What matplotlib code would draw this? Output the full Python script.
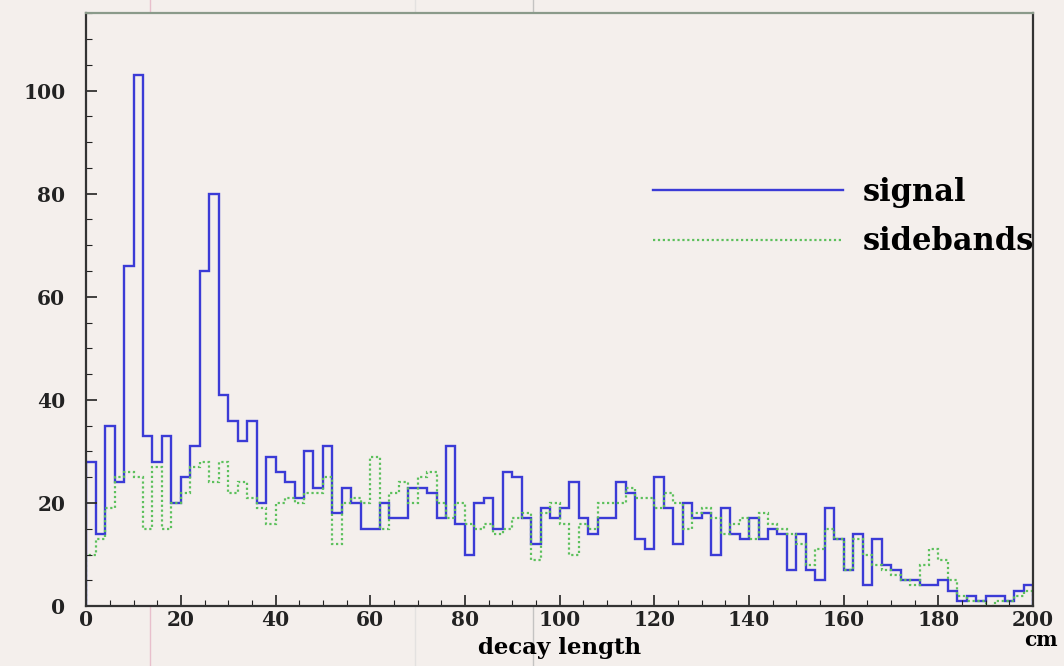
import numpy as np
import matplotlib
matplotlib.use("Agg")
import matplotlib.pyplot as plt
from matplotlib.lines import Line2D
from matplotlib.ticker import MultipleLocator

# decay length histogram, 2 cm bins from 0 to 200 cm
edges = np.arange(0, 202, 2)

signal = [
    28, 14, 35, 24, 66, 103, 33, 28, 33, 20,
    25, 31, 65, 80, 41, 36, 32, 36, 20, 29,
    26, 24, 21, 30, 23, 31, 18, 23, 20, 15,
    15, 20, 17, 17, 23, 23, 22, 17, 31, 16,
    10, 20, 21, 15, 26, 25, 17, 12, 19, 17,
    19, 24, 17, 14, 17, 17, 24, 22, 13, 11,
    25, 19, 12, 20, 17, 18, 10, 19, 14, 13,
    17, 13, 15, 14, 7, 14, 7, 5, 19, 13,
    7, 14, 4, 13, 8, 7, 5, 5, 4, 4,
    5, 3, 1, 2, 1, 2, 2, 1, 3, 4,
]

sidebands = [
    10, 13, 19, 25, 26, 25, 15, 27, 15, 20,
    22, 27, 28, 24, 28, 22, 24, 21, 19, 16,
    20, 21, 20, 22, 22, 25, 12, 20, 21, 20,
    29, 15, 22, 24, 20, 25, 26, 20, 17, 20,
    16, 15, 16, 14, 15, 17, 18, 9, 18, 20,
    16, 10, 16, 15, 20, 20, 20, 23, 21, 21,
    19, 22, 20, 15, 18, 19, 17, 14, 16, 17,
    13, 18, 16, 15, 14, 12, 8, 11, 15, 13,
    7, 13, 10, 8, 7, 6, 5, 4, 8, 11,
    9, 5, 2, 1, 1, 0, 1, 1, 2, 3,
]

xticks = [0, 20, 40, 60, 80, 100, 120, 140, 160, 180, 200]
yticks = [0, 20, 40, 60, 80, 100]

bg = "#f4efec"
serif = ["DejaVu Serif", "Liberation Serif"]

fig = plt.figure(figsize=(10.64, 6.66), dpi=100, facecolor=bg)
ax = fig.add_axes([0.081, 0.090, 0.890, 0.890], facecolor=bg)

ax.stairs(signal, edges, baseline=0, color="#3b3bd6", linewidth=1.7, label="signal")
ax.stairs(sidebands, edges, baseline=0, color="#5cc05c", linewidth=1.6,
          linestyle=(0, (1, 1.2)), label="sidebands")

ax.set_xlim(0, 200)
ax.set_ylim(0, 115)
ax.set_xticks(xticks)
ax.set_yticks(yticks)
ax.xaxis.set_minor_locator(MultipleLocator(5))
ax.yaxis.set_minor_locator(MultipleLocator(5))
ax.tick_params(which="both", direction="in", colors="#222222")
ax.tick_params(which="major", length=8, width=1.2)
ax.tick_params(which="minor", length=4, width=0.8)
ax.tick_params(axis="x", which="major", pad=3)
ax.tick_params(axis="y", which="major", pad=15)
for lbl in ax.get_xticklabels() + ax.get_yticklabels():
    lbl.set_family(serif)
    lbl.set_fontweight("bold")
    lbl.set_fontsize(14.5)

for side in ["left", "bottom", "right", "top"]:
    ax.spines[side].set_linewidth(1.6)
    ax.spines[side].set_color("#333333")
ax.spines["top"].set_color("#8a9a8a")

ax.set_xlabel("decay length", family=serif, fontweight="bold", fontsize=16.5, labelpad=5)
ax.text(1.008, -0.040, "cm", transform=ax.transAxes, family=serif,
        fontweight="bold", fontsize=14.5, ha="center", va="top")

leg = ax.legend(loc="upper left", bbox_to_anchor=(0.57, 0.77), frameon=False,
                handlelength=6.2, handletextpad=0.65, labelspacing=0.6,
                prop={"family": serif, "weight": "bold", "size": 22})

# scanner streaks running down the page
for xf, col, a in [(0.141, "#e6b4c4", 0.8), (0.390, "#d8d8d8", 0.6), (0.501, "#b8b8b8", 0.8)]:
    fig.add_artist(Line2D([xf, xf], [0, 1], transform=fig.transFigure,
                          color=col, alpha=a, linewidth=1.0, zorder=0))

fig.savefig("out.png", dpi=100, facecolor=bg)
